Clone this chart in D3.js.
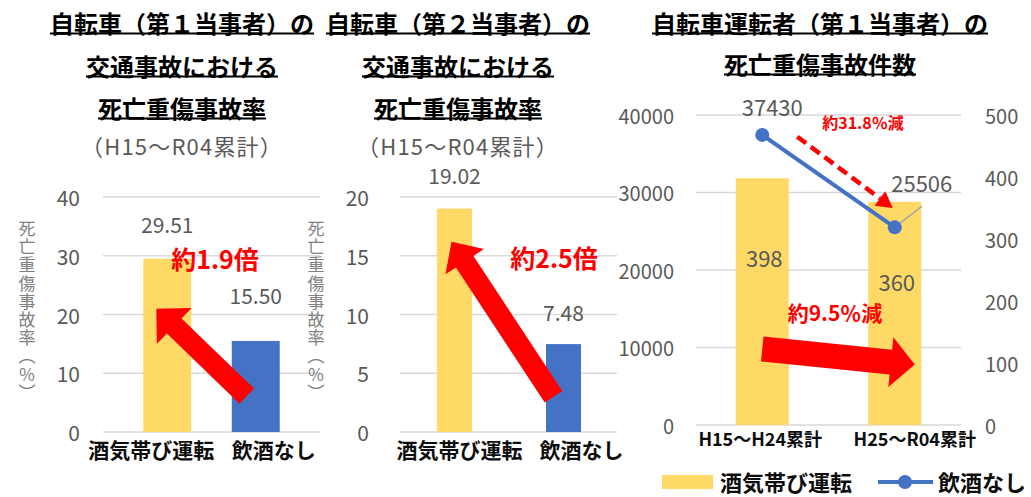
<!DOCTYPE html>
<html>
<head>
<meta charset="utf-8">
<script src="https://cdn.jsdelivr.net/npm/d3@7"></script>
<style>
  body { margin: 0; background: #fff; }
  svg { display: block; }
  text { font-family: "Noto Sans CJK JP", "Noto Sans", sans-serif; }
</style>
</head>
<body>
<svg id="chart" width="1031" height="497"></svg>
<script>
// data
const rateCats = ["酒気帯び運転", "飲酒なし"];
const rateFirst = [29.51, 15.50];   // 第1当事者
const rateSecond = [19.02, 7.48];   // 第2当事者
const rateTicksFirst = [0, 10, 20, 30, 40];
const rateTicksSecond = [0, 5, 10, 15, 20];

const periods = ["H15～H24累計", "H25～R04累計"];
const drunkCounts = [398, 360];        // bars, right axis
const soberCounts = [37430, 25506];    // line, left axis
const soberTicks = [0, 10000, 20000, 30000, 40000];
const drunkTicks = [0, 100, 200, 300, 400, 500];

const YELLOW = "#FFD966", BLUE = "#4472C4", RED = "#FF0000";
const GRID = "#d9d9d9", AXIS_TXT = "#595959";

const svg = d3.select("#chart");

function titleBlock(cx, lines) {
  lines.forEach(l => {
    const t = svg.append("text")
      .attr("x", cx).attr("y", l.y)
      .attr("text-anchor", "middle")
      .attr("dominant-baseline", "central")
      .attr("font-size", l.size)
      .attr("font-weight", l.bold ? 700 : 400)
      .attr("fill", l.bold ? "#000" : AXIS_TXT)
      .attr("letter-spacing", l.bold ? 0 : 1.2)
      .text(l.text);
    if (l.bold) {
      const b = t.node().getBBox();
      svg.append("line")
        .attr("x1", b.x).attr("x2", b.x + b.width)
        .attr("y1", l.y + 11.5).attr("y2", l.y + 11.5)
        .attr("stroke", "#000").attr("stroke-width", 2);
    }
  });
}

function arrowPts(x1, y1, x2, y2, sw, hl, hw) {
  const L = Math.hypot(x2 - x1, y2 - y1);
  const ux = (x2 - x1) / L, uy = (y2 - y1) / L, nx = -uy, ny = ux;
  const bx = x2 - ux * hl, by = y2 - uy * hl;
  return [
    [x1 + nx * sw / 2, y1 + ny * sw / 2],
    [bx + nx * sw / 2, by + ny * sw / 2],
    [bx + nx * hw, by + ny * hw],
    [x2, y2],
    [bx - nx * hw, by - ny * hw],
    [bx - nx * sw / 2, by - ny * sw / 2],
    [x1 - nx * sw / 2, y1 - ny * sw / 2]
  ];
}

function bigArrow(a, b, sw, hl, hw) {
  svg.append("polygon")
    .attr("points", arrowPts(a[0], a[1], b[0], b[1], sw, hl, hw).map(p => p.join(",")).join(" "))
    .attr("fill", RED);
}

function redLabel(x, y, size, txt) {
  svg.append("text")
    .attr("x", x).attr("y", y)
    .attr("text-anchor", "middle").attr("dominant-baseline", "central")
    .attr("font-size", size).attr("font-weight", 700)
    .attr("fill", RED).text(txt);
}

function rateChart(cfg) {
  const y = d3.scaleLinear().domain(d3.extent(cfg.ticks)).range([432, 197]);
  const x = d3.scaleBand().domain(rateCats).range(cfg.band)
    .paddingInner(cfg.pad).paddingOuter(cfg.pad / 2);
  const g = svg.append("g");

  g.append("g").selectAll("line").data(cfg.ticks).join("line")
    .attr("x1", cfg.grid[0]).attr("x2", cfg.grid[1])
    .attr("y1", d => y(d)).attr("y2", d => y(d))
    .attr("stroke", GRID).attr("stroke-width", 1.5);

  g.append("g").selectAll("text").data(cfg.ticks).join("text")
    .attr("x", cfg.tickX).attr("y", d => y(d))
    .attr("text-anchor", "end").attr("dominant-baseline", "central")
    .attr("font-size", 21).attr("fill", AXIS_TXT)
    .text(d => d);

  // vertical axis title
  g.append("text")
    .attr("x", cfg.titleX).attr("y", 311)
    .attr("text-anchor", "middle")
    .style("writing-mode", "vertical-rl")
    .attr("font-size", 17).attr("letter-spacing", 1.2).attr("fill", "#808080")
    .text("死亡重傷事故率（％）");

  g.append("g").selectAll("rect").data(cfg.values).join("rect")
    .attr("x", (d, i) => x(rateCats[i]))
    .attr("width", x.bandwidth())
    .attr("y", d => y(d))
    .attr("height", d => y(0) - y(d))
    .attr("fill", (d, i) => i === 0 ? YELLOW : BLUE);

  g.append("g").selectAll("text").data(cfg.values).join("text")
    .attr("x", (d, i) => x(rateCats[i]) + x.bandwidth() / 2)
    .attr("y", (d, i) => y(d) - cfg.lift[i])
    .attr("text-anchor", "middle").attr("dominant-baseline", "central")
    .attr("font-size", 21).attr("fill", AXIS_TXT)
    .text(d => d3.format(".2f")(d));

  g.append("g").selectAll("text").data(rateCats).join("text")
    .attr("x", (d, i) => x(d) + x.bandwidth() / 2 + cfg.catDx[i])
    .attr("y", 449)
    .attr("text-anchor", "middle").attr("dominant-baseline", "central")
    .attr("font-size", 21).attr("font-weight", 700).attr("fill", "#0d0d0d")
    .text(d => d);

  return { x, y, c: i => x(rateCats[i]) + x.bandwidth() / 2 };
}

// --- left chart
titleBlock(182, [
  { text: "自転車（第１当事者）の", y: 22, size: 24, bold: true },
  { text: "交通事故における", y: 65, size: 24, bold: true },
  { text: "死亡重傷事故率", y: 107, size: 24, bold: true },
  { text: "（H15～R04累計）", y: 145, size: 22 }
]);
const left = rateChart({
  values: rateFirst, ticks: rateTicksFirst,
  band: [123, 300], pad: 0.458, grid: [103, 320],
  tickX: 80, titleX: 27, lift: [35, 46], catDx: [-16, 18]
});
bigArrow([left.c(1) - 9, left.y(6.1)], [left.c(0) - 11, left.y(21)], 21, 25, 25);
redLabel(215, 258, 25, "約1.9倍");

// --- middle chart
titleBlock(458, [
  { text: "自転車（第２当事者）の", y: 22, size: 24, bold: true },
  { text: "交通事故における", y: 65, size: 24, bold: true },
  { text: "死亡重傷事故率", y: 107, size: 24, bold: true },
  { text: "（H15～R04累計）", y: 145, size: 22 }
]);
const mid = rateChart({
  values: rateSecond, ticks: rateTicksSecond,
  band: [400, 618], pad: 0.679, grid: [400, 617],
  tickX: 369, titleX: 316, lift: [34, 32], catDx: [5, 18]
});
bigArrow([mid.c(1) - 10, mid.y(3)], [mid.c(0) - 3, mid.y(16.2)], 21, 24, 23);
redLabel(554, 257, 25, "約2.5倍");

// --- right chart
titleBlock(820, [
  { text: "自転車運転者（第１当事者）の", y: 22, size: 24, bold: true },
  { text: "死亡重傷事故件数", y: 63, size: 24, bold: true }
]);

const xR = d3.scaleBand().domain(periods).range([696, 961]).paddingInner(0.6).paddingOuter(0.3);
const yL = d3.scaleLinear().domain([0, 40000]).range([425, 115]);
const yR = d3.scaleLinear().domain([0, 500]).range([425, 115]);
const cR = i => xR(periods[i]) + xR.bandwidth() / 2;

svg.append("g").selectAll("line").data(soberTicks).join("line")
  .attr("x1", 696).attr("x2", 961)
  .attr("y1", d => yL(d)).attr("y2", d => yL(d))
  .attr("stroke", GRID).attr("stroke-width", 1.5);

svg.append("g").selectAll("text").data(soberTicks).join("text")
  .attr("x", 674).attr("y", d => yL(d))
  .attr("text-anchor", "end").attr("dominant-baseline", "central")
  .attr("font-size", 20).attr("fill", AXIS_TXT).text(d => d);

svg.append("g").selectAll("text").data(drunkTicks).join("text")
  .attr("x", 985).attr("y", d => yR(d))
  .attr("text-anchor", "start").attr("dominant-baseline", "central")
  .attr("font-size", 20).attr("fill", AXIS_TXT).text(d => d);

svg.append("g").selectAll("rect").data(drunkCounts).join("rect")
  .attr("x", (d, i) => xR(periods[i])).attr("width", xR.bandwidth())
  .attr("y", d => yR(d)).attr("height", d => yR(0) - yR(d))
  .attr("fill", YELLOW);

svg.append("g").selectAll("text").data(drunkCounts).join("text")
  .attr("x", (d, i) => cR(i) + 2).attr("y", d => yR(d) + 79)
  .attr("text-anchor", "middle").attr("dominant-baseline", "central")
  .attr("font-size", 22).attr("fill", AXIS_TXT).text(d => d);

svg.append("g").selectAll("text").data(periods).join("text")
  .attr("x", (d, i) => cR(i) + [-2, 20][i]).attr("y", 438)
  .attr("text-anchor", "middle").attr("dominant-baseline", "central")
  .attr("font-size", 18).attr("font-weight", 700).attr("fill", "#0d0d0d")
  .text(d => d);

// leader line for second line label
svg.append("line")
  .attr("x1", cR(1)).attr("y1", yL(soberCounts[1]))
  .attr("x2", cR(1) + 27).attr("y2", yL(soberCounts[1]) - 21)
  .attr("stroke", "#a6a6a6").attr("stroke-width", 1.5);

svg.append("path")
  .datum(soberCounts)
  .attr("d", d3.line().x((d, i) => cR(i)).y(d => yL(d)))
  .attr("fill", "none").attr("stroke", BLUE).attr("stroke-width", 4);

svg.append("g").selectAll("circle").data(soberCounts).join("circle")
  .attr("cx", (d, i) => cR(i)).attr("cy", d => yL(d)).attr("r", 7)
  .attr("fill", BLUE);

svg.append("g").selectAll("text").data(soberCounts).join("text")
  .attr("x", (d, i) => cR(i) + [10, 27][i])
  .attr("y", (d, i) => yL(d) - [29, 45][i])
  .attr("text-anchor", "middle").attr("dominant-baseline", "central")
  .attr("font-size", 22).attr("fill", AXIS_TXT).text(d => d);

// dashed arrow (line decrease)
{
  const a = [cR(0) + 35, yL(37200)], b = [cR(1) - 2, yL(28000)];
  const L = Math.hypot(b[0] - a[0], b[1] - a[1]);
  const ux = (b[0] - a[0]) / L, uy = (b[1] - a[1]) / L;
  const hl = 16, hw = 9;
  svg.append("line")
    .attr("x1", a[0]).attr("y1", a[1])
    .attr("x2", b[0] - ux * hl).attr("y2", b[1] - uy * hl)
    .attr("stroke", RED).attr("stroke-width", 4.5).attr("stroke-dasharray", "11,6");
  const bx = b[0] - ux * hl, by = b[1] - uy * hl;
  svg.append("polygon")
    .attr("points", [[bx - uy * hw, by + ux * hw], b, [bx + uy * hw, by - ux * hw]].map(p => p.join(",")).join(" "))
    .attr("fill", RED);
}
redLabel(863, 122, 16, "約31.8％減");

bigArrow([cR(0), yL(9800)], [cR(1) + 20, yL(7800)], 25, 24, 25);
redLabel(835, 312, 21, "約9.5％減");

// legend
const lg = svg.append("g");
lg.append("rect").attr("x", 662).attr("y", 475).attr("width", 51).attr("height", 14).attr("fill", YELLOW);
lg.append("text").attr("x", 720).attr("y", 481).attr("dominant-baseline", "central")
  .attr("font-size", 22).attr("font-weight", 700).attr("fill", "#0d0d0d").text(rateCats[0]);
lg.append("line").attr("x1", 878).attr("x2", 933).attr("y1", 482).attr("y2", 482)
  .attr("stroke", BLUE).attr("stroke-width", 4);
lg.append("circle").attr("cx", 905).attr("cy", 482).attr("r", 7).attr("fill", BLUE);
lg.append("text").attr("x", 938).attr("y", 481).attr("dominant-baseline", "central")
  .attr("font-size", 22).attr("font-weight", 700).attr("fill", "#0d0d0d").text(rateCats[1]);
</script>
</body>
</html>
